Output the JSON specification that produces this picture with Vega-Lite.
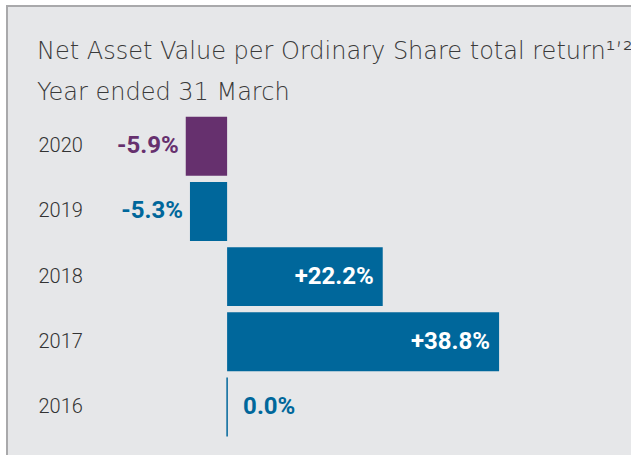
{
  "$schema": "https://vega.github.io/schema/vega-lite/v6.json",
  "width": 640,
  "height": 450,
  "autosize": {"type": "none"},
  "padding": {"left": 7, "top": 6, "right": 0, "bottom": 0},
  "background": "white",
  "config": {
    "view": {"fill": "#e6e7e9", "stroke": "#a9a9ab", "strokeWidth": 2}
  },
  "title": {
    "text": ["Net Asset Value per Ordinary Share total return¹ʼ²", "Year ended 31 March"],
    "anchor": "start",
    "frame": "group",
    "orient": "top",
    "baseline": "top",
    "offset": -99,
    "dx": 30,
    "font": "DejaVu Sans",
    "fontWeight": 200,
    "fontSize": 24,
    "lineHeight": 41,
    "color": "#3a3a3a"
  },
  "data": {
    "values": [
      {"year": "2020", "value": -5.9, "label": "-5.9%"},
      {"year": "2019", "value": -5.3, "label": "-5.3%"},
      {"year": "2018", "value": 22.2, "label": "+22.2%"},
      {"year": "2017", "value": 38.8, "label": "+38.8%"},
      {"year": "2016", "value": 0.0, "label": "0.0%"}
    ]
  },
  "encoding": {
    "y": {
      "field": "year",
      "type": "nominal",
      "sort": ["2020", "2019", "2018", "2017", "2016"],
      "scale": {"paddingInner": 0.095, "paddingOuter": 1, "align": 0.85},
      "axis": {
        "title": null,
        "domain": false,
        "ticks": false,
        "tickSize": 0,
        "grid": false,
        "labelAlign": "left",
        "labelPadding": -31,
        "labelFont": "Roboto",
        "labelFontWeight": 300,
        "labelFontSize": 20,
        "labelColor": "#333333"
      }
    }
  },
  "layer": [
    {
      "mark": {"type": "bar"},
      "encoding": {
        "x": {"field": "value", "type": "quantitative", "scale": {"domain": [-31.4, 59.9], "nice": false, "zero": false}, "axis": null},
        "x2": {"datum": 0},
        "color": {"condition": {"test": "datum.year == '2020'", "value": "#66306e"}, "value": "#00679b"}
      }
    },
    {
      "transform": [{"filter": "datum.value == 0"}],
      "mark": {"type": "tick", "color": "#00679b", "thickness": 1.5, "size": 59, "opacity": 1},
      "encoding": {
        "x": {"field": "value", "type": "quantitative"}
      }
    },
    {
      "transform": [{"filter": "datum.value < 0"}],
      "mark": {"type": "text", "align": "right", "baseline": "middle", "dx": -7, "font": "Roboto", "fontWeight": "bold", "fontSize": 24},
      "encoding": {
        "x": {"field": "value", "type": "quantitative"},
        "text": {"field": "label"},
        "color": {"condition": {"test": "datum.year == '2020'", "value": "#66306e"}, "value": "#00679b"}
      }
    },
    {
      "transform": [{"filter": "datum.value > 0"}],
      "mark": {"type": "text", "align": "right", "baseline": "middle", "dx": -9, "font": "Roboto", "fontWeight": "bold", "fontSize": 24, "color": "white"},
      "encoding": {
        "x": {"field": "value", "type": "quantitative"},
        "text": {"field": "label"}
      }
    },
    {
      "transform": [{"filter": "datum.value == 0"}],
      "mark": {"type": "text", "align": "left", "baseline": "middle", "dx": 16, "font": "Roboto", "fontWeight": "bold", "fontSize": 24, "color": "#00679b"},
      "encoding": {
        "x": {"field": "value", "type": "quantitative"},
        "text": {"field": "label"}
      }
    }
  ]
}
